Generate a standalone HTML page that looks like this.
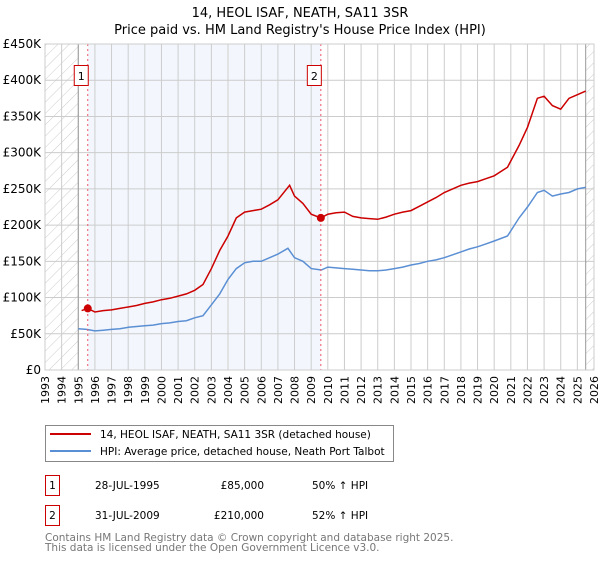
<!DOCTYPE html>
<html><head><meta charset="utf-8"><style>
body{margin:0;background:#fff;font-family:"Liberation Sans","DejaVu Sans",sans-serif;}
svg text{font-family:"DejaVu Sans","Liberation Sans",sans-serif;}
</style></head><body>
<svg id="c" width="600" height="560" viewBox="0 0 600 560">
<defs><pattern id="hatch" width="8" height="8" patternUnits="userSpaceOnUse" patternTransform="rotate(45)"><line x1="0" y1="0" x2="0" y2="8" stroke="#ccc" stroke-width="1"/></pattern></defs>
<text x="300" y="17" text-anchor="middle" font-size="13">14, HEOL ISAF, NEATH, SA11 3SR</text>
<text x="300" y="34" text-anchor="middle" font-size="13">Price paid vs. HM Land Registry's House Price Index (HPI)</text>
<g id="plot"></g>
<g>
<rect x="45.5" y="425.5" width="348" height="36" fill="#fff" stroke="#888"/>
<line x1="50" y1="434" x2="91" y2="434" stroke="#cc0000" stroke-width="2"/>
<text x="100" y="438" font-size="10.5">14, HEOL ISAF, NEATH, SA11 3SR (detached house)</text>
<line x1="50" y1="451" x2="91" y2="451" stroke="#5b8fd4" stroke-width="2"/>
<text x="100" y="455" font-size="10.5">HPI: Average price, detached house, Neath Port Talbot</text>
</g>
<g font-size="10.5">
<rect x="45.5" y="475.5" width="14" height="20" fill="#fff" stroke="#cc0000"/><text x="52.5" y="489" text-anchor="middle">1</text>
<text x="95" y="489">28-JUL-1995</text><text x="264" y="489" text-anchor="end">£85,000</text><text x="312" y="489">50% ↑ HPI</text>
<rect x="45.5" y="505.5" width="14" height="20" fill="#fff" stroke="#cc0000"/><text x="52.5" y="519" text-anchor="middle">2</text>
<text x="95" y="519">31-JUL-2009</text><text x="264" y="519" text-anchor="end">£210,000</text><text x="312" y="519">52% ↑ HPI</text>
</g>
<text x="45" y="541" font-size="10.5" fill="#777">Contains HM Land Registry data © Crown copyright and database right 2025.</text>
<text x="45" y="551" font-size="10.5" fill="#777">This data is licensed under the Open Government Licence v3.0.</text>
</svg>
<script>
const hpiYears=[1995,1995.5,1996,1996.5,1997,1997.5,1998,1998.5,1999,1999.5,2000,2000.5,2001,2001.5,2002,2002.5,2003,2003.5,2004,2004.5,2005,2005.5,2006,2006.5,2007,2007.6,2008,2008.5,2009,2009.6,2010,2010.5,2011,2011.5,2012,2012.5,2013,2013.5,2014,2014.5,2015,2015.5,2016,2016.5,2017,2017.5,2018,2018.5,2019,2019.5,2020,2020.8,2021.5,2022,2022.6,2023,2023.5,2024,2024.5,2025,2025.5];
const hpiValues=[57,56,54,55,56,57,59,60,61,62,64,65,67,68,72,75,90,105,125,140,148,150,150,155,160,168,155,150,140,138,142,141,140,139,138,137,137,138,140,142,145,147,150,152,155,159,163,167,170,174,178,185,210,225,245,248,240,243,245,250,252];
const priceYears=[1995.2,1995.57,1996,1996.5,1997,1997.5,1998,1998.5,1999,1999.5,2000,2000.5,2001,2001.5,2002,2002.5,2003,2003.5,2004,2004.5,2005,2005.5,2006,2006.5,2007,2007.7,2008,2008.5,2009,2009.58,2010,2010.5,2011,2011.5,2012,2012.5,2013,2013.5,2014,2014.5,2015,2015.5,2016,2016.5,2017,2017.5,2018,2018.5,2019,2019.5,2020,2020.8,2021.5,2022,2022.6,2023,2023.5,2024,2024.5,2025,2025.5];
const priceValues=[82,85,80,82,83,85,87,89,92,94,97,99,102,105,110,118,140,165,185,210,218,220,222,228,235,255,240,230,215,210,215,217,218,212,210,209,208,211,215,218,220,226,232,238,245,250,255,258,260,264,268,280,310,335,375,378,365,360,375,380,385];
const saleYears=[1995.57,2009.58];
const saleLabels=["1","2"];
const yTicks=[0,50,100,150,200,250,300,350,400,450];
const yTickLabels=["£0","£50K","£100K","£150K","£200K","£250K","£300K","£350K","£400K","£450K"];
const xTickYears=[];for(let y=1993;y<=2026;y++)xTickYears.push(y);

const L=45,R=594,T=44,B=370,X0=1993,X1=2026,YMAX=450;
const xs=v=>L+(v-X0)/(X1-X0)*(R-L);
const ys=v=>B-v/YMAX*(B-T);
const NS="http://www.w3.org/2000/svg";
const g=document.getElementById('plot');
function el(t,a,p){const e=document.createElementNS(NS,t);for(const k in a)e.setAttribute(k,a[k]);(p||g).appendChild(e);return e;}
let e;
e=el('rect',{x:xs(saleYears[0]),y:T,width:xs(saleYears[1])-xs(saleYears[0]),height:B-T,fill:'#eef3fc',opacity:0.7});


e=el('rect',{x:L,y:T,width:xs(1995)-L,height:B-T,fill:'url(#hatch)'});


e=el('rect',{x:xs(2025.5),y:T,width:R-xs(2025.5),height:B-T,fill:'url(#hatch)'});


xTickYears.forEach(y=>{
 e=el('line',{x1:xs(y),x2:xs(y),y1:T,y2:B,stroke:'#ccc','stroke-width':1});
 
 
 e=el('text',{x:0,y:0,'font-size':11,'text-anchor':'end',transform:`translate(${xs(y)+4},${B+6}) rotate(-90)`});
 e.textContent=y;
 
 
});
yTicks.forEach((v,i)=>{
 e=el('line',{x1:L,x2:R,y1:ys(v),y2:ys(v),stroke:'#ccc','stroke-width':1});
 
 
 e=el('text',{x:L-4,y:ys(v)+4,'font-size':12,'text-anchor':'end'});
 e.textContent=yTickLabels[i];
 
 
});
e=el('line',{x1:xs(1995),x2:xs(1995),y1:T,y2:B,stroke:'#999'});


e=el('line',{x1:xs(2025.5),x2:xs(2025.5),y1:T,y2:B,stroke:'#999'});


e=el('path',{d:hpiYears.map((y,i)=>(i?'L':'M')+xs(y).toFixed(1)+','+ys(hpiValues[i]).toFixed(1)).join(''),fill:'none',stroke:'#5b8fd4','stroke-width':1.5});


e=el('path',{d:priceYears.map((y,i)=>(i?'L':'M')+xs(y).toFixed(1)+','+ys(priceValues[i]).toFixed(1)).join(''),fill:'none',stroke:'#cc0000','stroke-width':1.5});


saleYears.forEach((y,i)=>{
 e=el('line',{x1:xs(y),x2:xs(y),y1:T,y2:B,stroke:'#ee5566','stroke-dasharray':'2,3'});
 
 
 const vi=priceYears.indexOf(y);
 e=el('circle',{cx:xs(y),cy:ys(priceValues[vi]),r:4,fill:'#cc0000'});
 
 
 e=el('rect',{x:xs(y)-13.5,y:65.5,width:14,height:20,fill:'#fff',stroke:'#cc0000'});
 
 
 e=el('text',{x:xs(y)-6.5,y:80,'font-size':11,'text-anchor':'middle'});
 e.textContent=saleLabels[i];
 
 
});
e=el('rect',{x:L,y:T,width:R-L,height:B-T,fill:'none',stroke:'#ccc'});


</script>
</body></html>
